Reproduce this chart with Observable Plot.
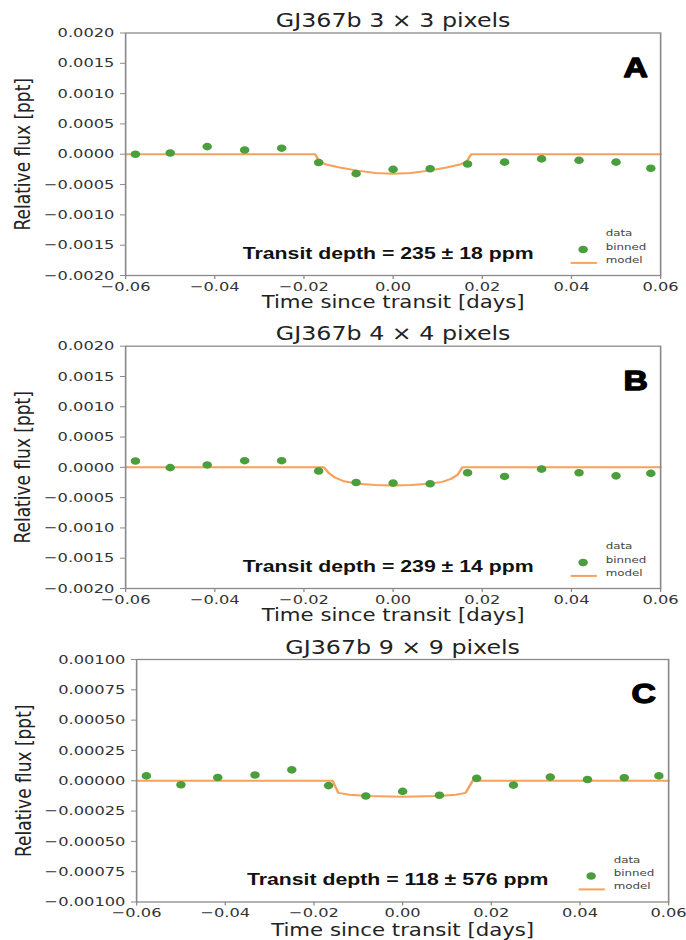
<!DOCTYPE html>
<html><head><meta charset="utf-8">
<script src="https://cdn.jsdelivr.net/npm/d3@7"></script>
<script src="https://cdn.jsdelivr.net/npm/@observablehq/plot@0.6"></script>
<style>
body{margin:0;background:#fff;}
#chart svg{display:block;}
</style>
</head><body><div id="chart"></div>
<script>
// ---- data ----
const panelTitles = ["GJ367b 3 \u00d7 3 pixels", "GJ367b 4 \u00d7 4 pixels", "GJ367b 9 \u00d7 9 pixels"];
const panelLetters = ["A", "B", "C"];
const depthLabels = ["Transit depth = 235 \u00b1 18 ppm", "Transit depth = 239 \u00b1 14 ppm", "Transit depth = 118 \u00b1 576 ppm"];

const timeBinned = [-0.0578, -0.0500, -0.0417, -0.0333, -0.0250, -0.0167, -0.0083, 0.0000, 0.0083, 0.0167, 0.0250, 0.0333, 0.0417, 0.0500, 0.0578];
const fluxA = [0.00000, 0.00002, 0.000126, 0.00007, 0.00010, -0.000137, -0.00032, -0.00025, -0.00024, -0.00016, -0.00013, -0.000077, -0.00010, -0.00013, -0.00023];
const fluxB = [0.000104, -0.000005, 0.00004, 0.00011, 0.00011, -0.00006, -0.00025, -0.00026, -0.00027, -0.00009, -0.00015, -0.00003, -0.00009, -0.00014, -0.00010];
const fluxC = [0.00004, -0.000033, 0.000027, 0.000047, 0.00009, -0.00004, -0.000126, -0.000088, -0.00012, 0.00002, -0.000036, 0.00003, 0.00001, 0.000025, 0.00004];

const modelTimeA = [-0.06, -0.0175, -0.0165, -0.0150, -0.0120, -0.0080, -0.0040, 0, 0.0040, 0.0080, 0.0120, 0.0150, 0.0165, 0.0175, 0.06];
const modelFluxA = [0, 0, -0.00012, -0.00017, -0.00022, -0.00027, -0.00031, -0.00032, -0.00031, -0.00027, -0.00022, -0.00017, -0.00012, 0, 0];
const modelTimeB = [-0.06, -0.0155, -0.0145, -0.0130, -0.0110, -0.0080, -0.0040, 0, 0.0040, 0.0080, 0.0110, 0.0130, 0.0145, 0.0155, 0.06];
const modelFluxB = [0, 0, -0.00009, -0.00017, -0.00023, -0.00027, -0.00029, -0.00030, -0.00029, -0.00027, -0.00024, -0.00019, -0.00012, 0, 0];
const modelTimeC = [-0.06, -0.0158, -0.0145, -0.0120, -0.0080, 0, 0.0080, 0.0120, 0.0142, 0.0158, 0.06];
const modelFluxC = [0, 0, -0.00010, -0.000115, -0.000125, -0.000132, -0.000125, -0.000115, -0.00010, 0, 0];

const xTicks = [-0.06, -0.04, -0.02, 0.00, 0.02, 0.04, 0.06];
const yTicksAB = [-0.0020, -0.0015, -0.0010, -0.0005, 0.0000, 0.0005, 0.0010, 0.0015, 0.0020];
const yTicksC = [-0.00100, -0.00075, -0.00050, -0.00025, 0.00000, 0.00025, 0.00050, 0.00075, 0.00100];

const xLabel = "Time since transit [days]";
const yLabel = "Relative flux [ppt]";
const legendLabels = ["data", "binned", "model"];

// ---- layout ----
const STRETCH = 1.25;           // the reference figure is stretched horizontally
const W = 686 / STRETCH;
const GREEN = "#4a9e3b", ORANGE = "#f7a15a";

const panels = [
  {title: panelTitles[0], letter: panelLetters[0], depth: depthLabels[0], flux: fluxA, mt: modelTimeA, mf: modelFluxA,
   yTicks: yTicksAB, fmt: d3.format(".4f"), height: 318, mTop: 32.5, mBottom: 43, mLeft: 100, mRight: W - 528, xlabDy: 20, ylabX: 18.4},
  {title: panelTitles[1], letter: panelLetters[1], depth: depthLabels[1], flux: fluxB, mt: modelTimeB, mf: modelFluxB,
   yTicks: yTicksAB, fmt: d3.format(".4f"), height: 313, mTop: 27.7, mBottom: 43, mLeft: 100, mRight: W - 528, xlabDy: 20.5, ylabX: 18.4},
  {title: panelTitles[2], letter: panelLetters[2], depth: depthLabels[2], flux: fluxC, mt: modelTimeC, mf: modelFluxC,
   yTicks: yTicksC, fmt: d3.format(".5f"), height: 309, mTop: 28, mBottom: 38.5, mLeft: 108.8, mRight: W - 534.4, xlabDy: 22, ylabX: 19.2}
];

const lineSymbol = {draw(ctx) { ctx.moveTo(-10.5, 0); ctx.lineTo(10.5, 0); }};
const one = [0];

for (const p of panels) {
  const binned = timeBinned.map((t, i) => ({t, f: p.flux[i]}));
  const model = p.mt.map((t, i) => ({t, f: p.mf[i]}));
  const ymax = p.yTicks[p.yTicks.length - 1];
  const svg = Plot.plot({
    width: W,
    height: p.height,
    marginTop: p.mTop, marginBottom: p.mBottom, marginLeft: p.mLeft, marginRight: p.mRight,
    style: {fontFamily: "DejaVu Sans", fontSize: "13px", color: "#333", background: "white"},
    x: {domain: [-0.06, 0.06], ticks: xTicks, tickFormat: d3.format(".2f"), tickSize: 4, tickPadding: 2, label: null},
    y: {domain: [-ymax, ymax], ticks: p.yTicks, tickFormat: p.fmt, tickSize: 4, tickPadding: 5, label: null},
    marks: [
      Plot.line(model, {x: "t", y: "f", stroke: ORANGE, strokeWidth: 2}),
      Plot.dot(binned, {x: "t", y: "f", r: 3.8, fill: GREEN}),
      Plot.frame({stroke: "#8a8a8a", strokeWidth: 1.3}),
      Plot.text(one, {text: () => p.title, frameAnchor: "top", dy: -6, lineAnchor: "bottom", fontSize: 19, fill: "#222"}),
      Plot.text(one, {text: () => p.letter, frameAnchor: "top-right", textAnchor: "middle", dx: -20, dy: 24.5, fontSize: 27, fontWeight: "bold", fontFamily: "Liberation Sans", fill: "black", stroke: "black", strokeWidth: 1.3}),
      Plot.text(one, {text: () => p.depth, frameAnchor: "bottom", dx: -4, dy: -17, fontSize: 17, fontWeight: "bold", fontFamily: "Liberation Sans", fill: "#111"}),
      Plot.text(one, {text: () => legendLabels[0], frameAnchor: "bottom-right", dx: -44, dy: -39.5, textAnchor: "start", fontSize: 9.5, fill: "#444"}),
      Plot.text(one, {text: () => legendLabels[1], frameAnchor: "bottom-right", dx: -44, dy: -26, textAnchor: "start", fontSize: 9.5, fill: "#444"}),
      Plot.text(one, {text: () => legendLabels[2], frameAnchor: "bottom-right", dx: -44, dy: -12.6, textAnchor: "start", fontSize: 9.5, fill: "#444"}),
      Plot.dot(one, {frameAnchor: "bottom-right", dx: -62, dy: -26, r: 3.8, fill: GREEN}),
      Plot.dot(one, {frameAnchor: "bottom-right", dx: -61.5, dy: -12.6, symbol: lineSymbol, r: 4, fill: "none", stroke: ORANGE, strokeWidth: 2}),
      Plot.text(one, {text: () => xLabel, frameAnchor: "bottom", dy: p.xlabDy, lineAnchor: "top", fontSize: 17, fill: "#222"}),
      Plot.text(one, {text: () => yLabel, frameAnchor: "left", textAnchor: "middle", dx: -(p.mLeft - p.ylabX), rotate: -90, fontSize: 17, fill: "#222"})
    ]
  });
  svg.setAttribute("preserveAspectRatio", "none");
  svg.setAttribute("width", 686);
  svg.style.width = "686px";
  svg.style.height = p.height + "px";
  svg.style.maxWidth = "none";
  d3.select(svg).selectAll("g[aria-label$='tick'] path, g[aria-label$='axis'] line, g.tick line").attr("stroke", "#8a8a8a");
  document.getElementById("chart").appendChild(svg);
}
</script>
</body></html>
